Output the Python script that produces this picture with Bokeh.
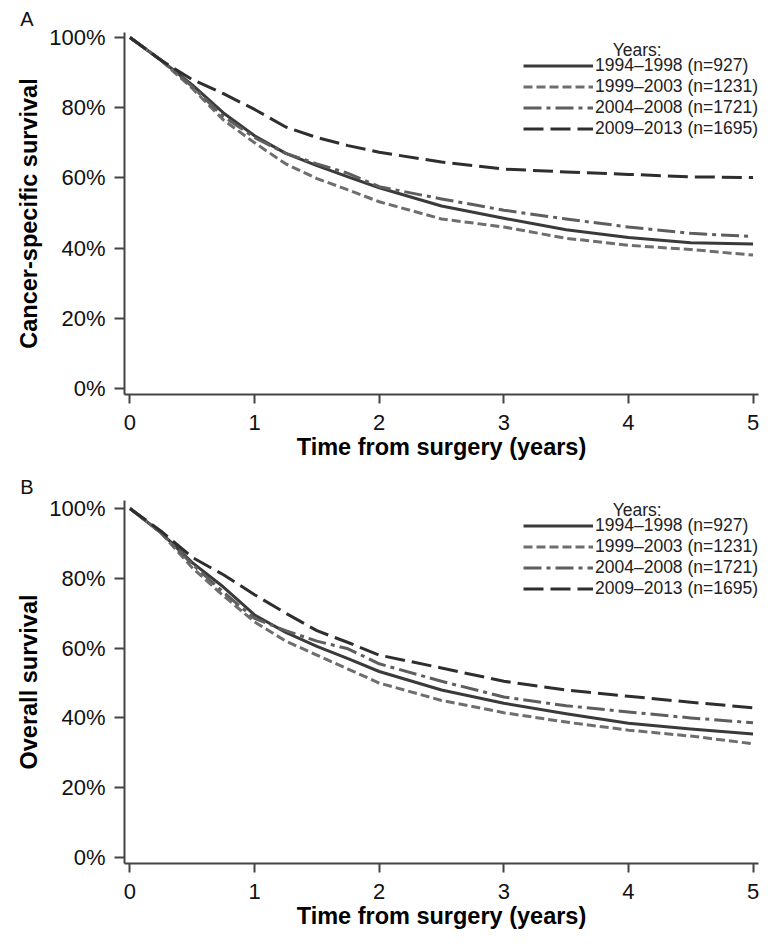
from bokeh.plotting import figure
from bokeh.models import FixedTicker, PrintfTickFormatter, Legend, LegendItem, Label, Range1d, Title
from bokeh.layouts import column
from bokeh.embed import file_html
from bokeh.resources import INLINE

# ---------------- data ----------------
time_years = [0, 0.25, 0.5, 0.75, 1.0, 1.25, 1.5, 1.75, 2.0, 2.5, 3.0, 3.5, 4.0, 4.5, 5.0]

series_labels = ["1994\u20131998 (n=927)", "1999\u20132003 (n=1231)",
                 "2004\u20132008 (n=1721)", "2009\u20132013 (n=1695)"]

# Panel A: cancer-specific survival (%)
css_1994 = [100, 93.5, 86.5, 78.5, 72, 67, 63.5, 60.3, 57.2, 52, 48.5, 45.2, 43, 41.5, 41.2]
css_1999 = [100, 93.5, 85.5, 76.5, 70, 64, 59.8, 56.6, 53.2, 48.3, 46, 42.8, 40.8, 39.6, 38]
css_2004 = [100, 93.5, 86, 77.5, 71.5, 67, 64, 61.3, 57.5, 54, 50.8, 48.3, 46, 44.2, 43.3]
css_2009 = [100, 93.5, 88, 84, 79.5, 74.5, 71.5, 69.2, 67.3, 64.5, 62.5, 61.7, 61, 60.3, 60.1]

# Panel B: overall survival (%)
os_1994 = [100, 93, 84.5, 77.5, 69.5, 64.5, 60.5, 57, 53.3, 48, 44.2, 41.2, 38.5, 36.8, 35.4]
os_1999 = [100, 93, 83, 75, 67.5, 62, 58, 54, 50, 45, 41.5, 38.8, 36.5, 34.8, 32.6]
os_2004 = [100, 93, 84, 76, 68.5, 65, 62, 59.8, 55.5, 50.5, 46, 43.5, 41.7, 40, 38.6]
os_2009 = [100, 93.5, 86, 81, 75.3, 70, 65, 61.6, 58, 54.3, 50.5, 48, 46.2, 44.5, 42.9]

x_ticks = [0, 1, 2, 3, 4, 5]
y_ticks = [0, 20, 40, 60, 80, 100]

# ---------------- styles ----------------
line_styles = [
    dict(line_color="#3a3a3a", line_dash="solid"),
    dict(line_color="#6e6e6e", line_dash="9 4"),
    dict(line_color="#5e5e5e", line_dash="18 5 4 5"),
    dict(line_color="#2e2e2e", line_dash="20 7"),
]

FONT = "Liberation Sans"


def make_panel(letter, ylabel, series, y_end, border_top, frame_h, legend_y, years_y):
    p = figure(width=763, height=border_top + frame_h + 76,
               output_backend="svg", toolbar_location=None,
               x_range=Range1d(-0.044, 5.044), y_range=Range1d(-1.71, y_end),
               min_border_left=124, min_border_right=5,
               min_border_top=border_top, min_border_bottom=76)
    p.outline_line_color = None
    p.xgrid.visible = False
    p.ygrid.visible = False
    p.background_fill_color = "white"

    renderers = []
    for vals, st in zip(series, line_styles):
        r = p.line(time_years, vals, line_width=3, line_join="round", **st)
        renderers.append(r)

    items = [LegendItem(label=lab, renderers=[r]) for lab, r in zip(series_labels, renderers)]
    legend = Legend(items=items, location=(399, legend_y), glyph_width=70, glyph_height=19,
                    label_height=19, label_standoff=2, spacing=-2, padding=0, margin=0,
                    border_line_color=None, background_fill_alpha=0,
                    label_text_font=FONT, label_text_font_size="17.5px",
                    label_text_color="#222222")
    p.add_layout(legend)

    p.add_layout(Label(x=4.07, y=years_y, text="Years:", text_font=FONT,
                       text_font_size="17.5px", text_align="center",
                       text_baseline="middle", text_color="#222222"))

    p.add_layout(Title(text=letter, align="right", offset=725, standoff=6,
                       text_font=FONT, text_font_size="20px", text_font_style="normal",
                       text_color="#111111", vertical_align="bottom"), "above")

    for ax in (p.xaxis[0], p.yaxis[0]):
        ax.axis_line_color = "#444444"
        ax.axis_line_width = 2
        ax.major_tick_line_color = "#444444"
        ax.major_tick_line_width = 2
        ax.minor_tick_line_color = None
        ax.major_tick_in = 0
        ax.major_label_text_font = FONT
        ax.major_label_text_font_size = "22px"
        ax.major_label_text_color = "#111111"
        ax.axis_label_text_font = FONT
        ax.axis_label_text_font_size = "23.5px"
        ax.axis_label_text_font_style = "bold"
        ax.axis_label_text_color = "#000000"

    p.xaxis.ticker = FixedTicker(ticks=x_ticks)
    p.xaxis.major_tick_out = 9
    p.xaxis.major_label_standoff = 11
    p.xaxis.axis_label = "Time from surgery (years)"
    p.xaxis.axis_label_standoff = 1

    p.yaxis.ticker = FixedTicker(ticks=y_ticks)
    p.yaxis.formatter = PrintfTickFormatter(format="%d%%")
    p.yaxis.major_tick_out = 10
    p.yaxis.major_label_standoff = 9
    p.yaxis.axis_label = ylabel
    p.yaxis.axis_label_standoff = 4
    return p


pA = make_panel("A", "Cancer-specific survival",
                [css_1994, css_1999, css_2004, css_2009],
                101.42, 32, 362, 255, 96.3)
pB = make_panel("B", "Overall survival",
                [os_1994, os_1999, os_2004, os_2009],
                102.29, 29, 364, 264, 99.7)

layout = column(pA, pB, spacing=0)
open("out.html", "w").write(file_html(layout, INLINE))
